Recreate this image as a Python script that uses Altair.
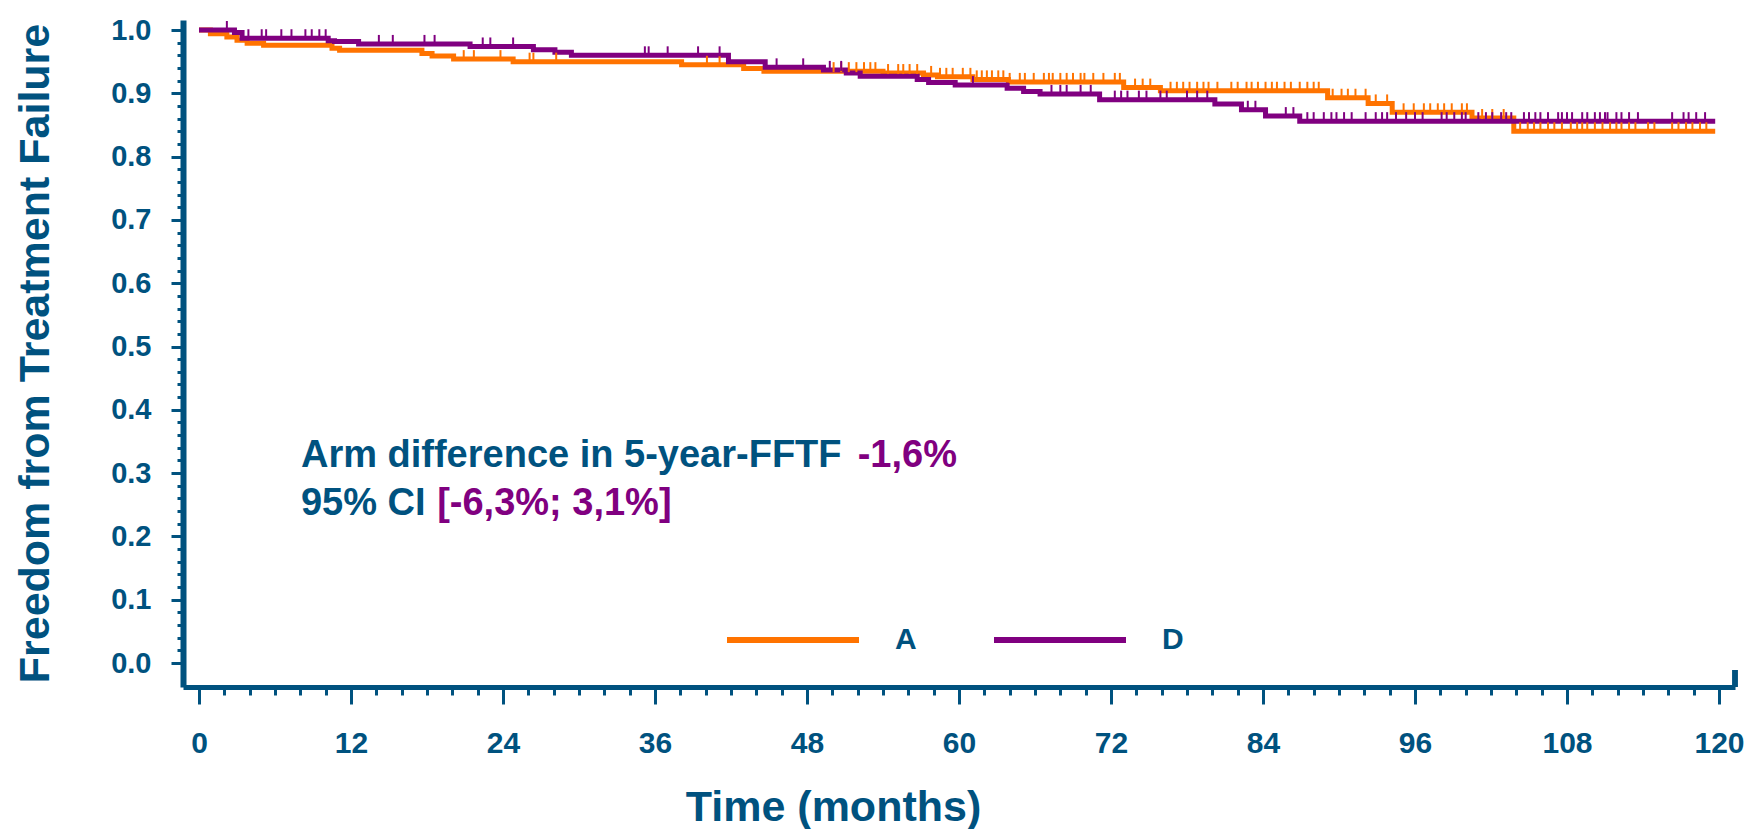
import altair as alt
import pandas as pd

BLUE = "#00527F"
ORANGE = "#FF7300"
PURPLE = "#800080"
FONT = "Liberation Sans"

# Kaplan-Meier step points (time in months, freedom from treatment failure)
a_time = [0, 0.9, 2.2, 3.0, 3.8, 5.1, 10.5, 11.1, 17.6, 18.4, 20.1, 24.8, 38.1, 43.0, 44.6, 54.0,
          57.2, 58.3, 61.1, 63.9, 73.0, 75.9, 89.1, 92.3, 94.2, 100.5, 103.8, 119.7]
a_surv = [1.0, 0.994, 0.989, 0.984, 0.979, 0.976, 0.971, 0.968, 0.963, 0.959, 0.954, 0.950, 0.945,
          0.939, 0.935, 0.932, 0.929, 0.926, 0.922, 0.918, 0.909, 0.904, 0.893, 0.884, 0.870, 0.861,
          0.840, 0.840]
d_time = [0, 2.8, 3.4, 10.2, 10.7, 12.6, 21.4, 26.4, 28.1, 29.4, 41.8, 44.7, 49.3, 51.1, 52.2, 56.7,
          57.6, 59.7, 63.8, 65.1, 66.4, 71.1, 80.2, 82.3, 84.2, 86.9, 119.7]
d_surv = [1.0, 0.996, 0.987, 0.983, 0.982, 0.978, 0.974, 0.969, 0.965, 0.960, 0.950, 0.941, 0.937,
          0.932, 0.927, 0.922, 0.917, 0.913, 0.908, 0.903, 0.899, 0.890, 0.883, 0.874, 0.864, 0.856,
          0.856]

# censoring times (months)
a_cens = [20.9, 21.7, 23.8, 26.1, 26.4, 28.2, 40.1, 41.1, 50.1, 50.7, 51.3, 51.9, 52.5, 53.0, 53.4,
          54.4, 55.2, 55.6, 56.1, 56.7, 57.8, 58.5, 59.0, 59.5, 60.3, 60.9, 61.4, 61.8, 62.2, 62.6,
          63.1, 63.5, 64.0, 64.8, 65.2, 65.9, 66.7, 67.1, 67.4, 68.0, 68.5, 69.0, 69.6, 69.9, 70.6,
          71.4, 72.3, 72.7, 73.9, 74.5, 75.1, 76.7, 77.2, 77.7, 78.2, 78.8, 79.3, 79.7, 80.4, 81.5,
          82.0, 82.7, 83.1, 83.6, 84.2, 84.7, 85.1, 85.7, 86.2, 86.9, 87.5, 88.0, 88.4, 89.5, 90.2,
          90.7, 91.3, 92.1, 92.9, 93.8, 95.1, 95.9, 96.7, 97.2, 97.8, 98.3, 98.9, 99.7, 100.1, 101.3,
          102.1, 103.0, 104.3, 104.9, 105.4, 105.9, 106.5, 107.0, 107.6, 108.3, 108.8, 109.2, 109.6,
          110.2, 110.8, 111.4, 111.9, 112.3, 112.9, 113.4, 114.4, 114.9, 116.3, 116.8, 117.4, 117.9,
          118.5, 119.0]
d_cens = [2.2, 3.9, 4.95, 5.3, 6.5, 7.3, 8.4, 8.9, 9.5, 10.0, 14.2, 15.3, 17.8, 18.6, 22.4, 23.0,
          24.8, 35.2, 35.5, 37.0, 39.4, 41.1, 45.6, 47.7, 49.8, 50.7, 61.1, 67.3, 68.0, 68.5, 69.6,
          70.4, 72.3, 72.8, 73.3, 74.2, 74.8, 75.9, 76.4, 78.0, 78.8, 79.6, 82.8, 83.4, 85.8, 86.4,
          87.5, 88.0, 88.8, 89.4, 89.8, 90.4, 91.0, 92.1, 92.9, 93.4, 93.8, 94.5, 95.3, 96.0, 96.6,
          98.1, 98.5, 99.1, 99.7, 100.0, 101.0, 101.6, 102.1, 102.8, 103.2, 103.6, 104.6, 105.0,
          105.5, 105.9, 106.5, 107.3, 107.6, 108.0, 108.4, 109.2, 109.6, 110.2, 110.6, 111.0, 111.2,
          111.9, 112.3, 112.9, 113.6, 116.3, 117.2, 117.6, 118.2, 118.9]

arms = ["A", "D"]
arm_colors = [ORANGE, PURPLE]

x_ticks = [i * 2 for i in range(61)]
y_ticks = [round(i * 0.02, 2) for i in range(51)]

annot_text = ["Arm difference in 5-year-FFTF ", "-1,6%", "95% CI ", "[-6,3%; 3,1%]"]
annot_time = [8.05, 52.0, 8.05, 18.8]
annot_surv = [0.3096, 0.3096, 0.2338, 0.2338]
annot_col = [BLUE, PURPLE, BLUE, PURPLE]


def step_value(times, survs, c):
    v = survs[0]
    for t, s in zip(times, survs):
        if t <= c:
            v = s
    return v


curve_rows = []
for arm, ts, ss in [("A", a_time, a_surv), ("D", d_time, d_surv)]:
    for t, s in zip(ts, ss):
        curve_rows.append({"arm": arm, "time": t, "surv": s})
curves = pd.DataFrame(curve_rows)

cens_rows = []
for arm, cs, ts, ss in [("A", a_cens, a_time, a_surv), ("D", d_cens, d_time, d_surv)]:
    for c in cs:
        cens_rows.append({"arm": arm, "time": c, "surv": step_value(ts, ss, c)})
cens = pd.DataFrame(cens_rows)

annot = pd.DataFrame({"time": annot_time, "surv": annot_surv, "text": annot_text, "col": annot_col})

x_enc = alt.X(
    "time:Q",
    scale=alt.Scale(domain=[-1.263, 121.263], nice=False, zero=False),
    axis=alt.Axis(
        values=x_ticks,
        labelExpr="datum.value % 12 === 0 ? datum.label : ''",
        labelOverlap=False,
        tickSize={"condition": {"test": "datum.value % 12 === 0", "value": 17}, "value": 8},
        tickWidth=3,
        tickColor=BLUE,
        domainColor=BLUE,
        domainWidth=5,
        labelFont=FONT,
        labelFontSize=30,
        labelFontWeight="bold",
        labelColor=BLUE,
        labelPadding=39,
        labelBaseline="middle",
        title="Time (months)",
        titleFont=FONT,
        titleFontSize=43,
        titleFontWeight="bold",
        titleColor=BLUE,
        titleX=650,
        titleY=120,
        titleAlign="center",
        titleBaseline="middle",
        grid=False,
    ),
)
y_enc = alt.Y(
    "surv:Q",
    scale=alt.Scale(domain=[-0.0379, 1.0158], nice=False, zero=False),
    axis=alt.Axis(
        values=y_ticks,
        labelExpr="abs(datum.value * 10 - round(datum.value * 10)) < 0.001 ? format(datum.value, '.1f') : ''",
        labelOverlap=False,
        tickSize={"condition": {"test": "abs(datum.value * 10 - round(datum.value * 10)) < 0.001",
                                "value": 12}, "value": 6},
        tickWidth=3,
        tickColor=BLUE,
        domainColor=BLUE,
        domainWidth=6,
        labelFont=FONT,
        labelFontSize=29,
        labelFontWeight="bold",
        labelColor=BLUE,
        labelPadding=20,
        title="Freedom from Treatment Failure",
        titleFont=FONT,
        titleFontSize=43,
        titleFontWeight="bold",
        titleColor=BLUE,
        titleX=-148,
        titleY=333,
        titleAngle=270,
        titleAlign="center",
        titleBaseline="middle",
        grid=False,
    ),
)

color_enc = alt.Color(
    "arm:N",
    scale=alt.Scale(domain=arms, range=arm_colors),
    legend=alt.Legend(
        orient="none",
        legendX=541,
        legendY=551,
        direction="horizontal",
        title=None,
        symbolType="stroke",
        symbolSize=17424,
        symbolStrokeWidth=6,
        symbolOpacity=1,
        labelOffset=33,
        columnPadding=65,
        labelFont=FONT,
        labelFontSize=30,
        labelFontWeight="bold",
        labelColor=BLUE,
    ),
)

lines = alt.Chart(curves).mark_line(interpolate="step-after", strokeWidth=5, strokeCap="butt").encode(
    x=x_enc, y=y_enc, color=color_enc, order=alt.Order("time:Q")
)

ticks = alt.Chart(cens).mark_tick(orient="vertical", size=10, thickness=2, yOffset=-4, opacity=1).encode(
    x=x_enc, y=y_enc, color=color_enc
)

texts = alt.Chart(annot).mark_text(
    align="left", baseline="alphabetic", font=FONT, fontSize=38, fontWeight="bold"
).encode(x=x_enc, y=y_enc, text="text:N", color=alt.Color("col:N", scale=None))

cap = alt.Chart(annot).mark_rule(color=BLUE, strokeWidth=5).encode(
    x=alt.value(1552), y=alt.value(650), y2=alt.value(667)
)

chart = (
    alt.layer(lines, ticks, texts, cap)
    .properties(
        width=1552,
        height=667,
        autosize=alt.AutoSizeParams(type="none"),
        padding={"left": 183, "top": 20, "right": 13, "bottom": 142},
        background="white",
    )
    .configure_view(stroke=None)
)

chart.save("out.html", embed_options={"renderer": "svg", "actions": False})
